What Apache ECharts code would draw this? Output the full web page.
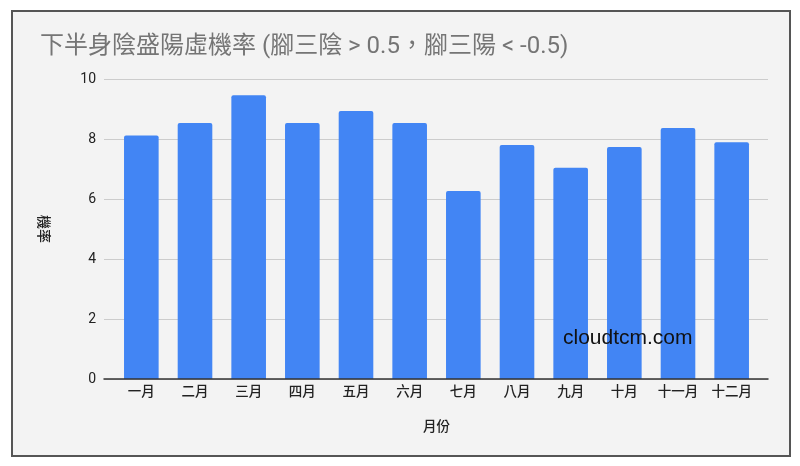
<!DOCTYPE html>
<html>
<head>
<meta charset="utf-8">
<script src="https://cdn.jsdelivr.net/npm/echarts@6/dist/echarts.min.js"></script>
<style>
html,body{margin:0;padding:0;background:#fff;}
#box{position:absolute;left:11px;top:10px;width:776px;height:443px;border:2px solid #555;background:#f3f3f3;}
#chart{position:absolute;left:0;top:0;width:800px;height:466px;}
</style>
</head>
<body>
<div id="box"></div>
<div id="chart"></div>
<script>
const titleText = '下半身陰盛陽虛機率 (腳三陰 > 0.5，腳三陽 < -0.5)';
const months = ['一月','二月','三月','四月','五月','六月','七月','八月','九月','十月','十一月','十二月'];
const probability = [8.12, 8.53, 9.46, 8.53, 8.93, 8.53, 6.27, 7.8, 7.04, 7.73, 8.37, 7.89];
const yTicks = { min: 0, max: 10, interval: 2 };
const watermark = 'cloudtcm.com';

const font = "Roboto, Arial, 'Noto Sans CJK TC', sans-serif";
const chart = echarts.init(document.getElementById('chart'), null, { renderer: 'canvas' });
chart.setOption({
  backgroundColor: 'transparent',
  animation: false,
  title: {
    text: titleText, left: 35, top: 30,
    textStyle: { color: '#757575', fontSize: 24, fontWeight: 'normal', fontFamily: font }
  },
  graphic: [{
    type: 'text', left: 563, top: 328, z: 10,
    style: { text: watermark, fill: '#111', fontSize: 21, fontFamily: "Arial, 'Liberation Sans', sans-serif" }
  }],
  grid: [
    { left: 104, right: 32, top: 79, bottom: 87 },
    { left: 114.5, right: 41.5, top: 79, bottom: 87 }
  ],
  xAxis: [
    { type: 'value', gridIndex: 0, min: 0, max: 1, z: 5,
      axisLine: { show: true, onZero: false, lineStyle: { color: '#333', width: 1.5 } },
      axisTick: { show: false }, axisLabel: { show: false }, splitLine: { show: false } },
    { type: 'category', gridIndex: 1, data: months,
      name: '月份', nameLocation: 'middle', nameGap: 42,
      nameTextStyle: { color: '#222', fontSize: 13.5, fontWeight: 500, fontFamily: font },
      axisLine: { show: false }, axisTick: { show: false },
      axisLabel: { color: '#222', fontSize: 13.5, fontWeight: 500, margin: 7, fontFamily: font, interval: 0 } }
  ],
  yAxis: [
    { type: 'value', gridIndex: 0, min: yTicks.min, max: yTicks.max, interval: yTicks.interval,
      name: '機率', nameLocation: 'middle', nameGap: 55, nameRotate: -90,
      nameTextStyle: { color: '#222', fontSize: 14, fontWeight: 500, fontFamily: font },
      axisLine: { show: false }, axisTick: { show: false },
      axisLabel: { color: '#222', fontSize: 14, margin: 8, fontFamily: font },
      splitLine: { lineStyle: { color: '#cccccc', width: 1 } } },
    { type: 'value', gridIndex: 1, min: yTicks.min, max: yTicks.max, interval: yTicks.interval,
      show: false, splitLine: { show: false } }
  ],
  series: [{
    type: 'bar', xAxisIndex: 1, yAxisIndex: 1, data: probability,
    barWidth: '64.5%',
    itemStyle: { color: '#4285f4', borderRadius: [2, 2, 0, 0] }
  }]
});
</script>
</body>
</html>
